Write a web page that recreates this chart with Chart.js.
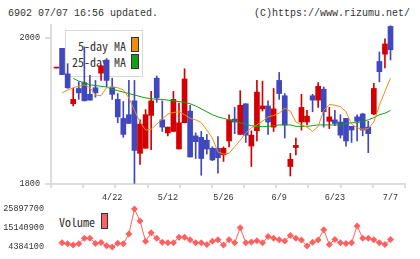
<!DOCTYPE html>
<html>
<head>
<meta charset="utf-8">
<script src="https://cdn.jsdelivr.net/npm/chart.js@4.4.1/dist/chart.umd.min.js"></script>
<style>
  body { margin: 0; background: #fff; }
  #wrap { position: relative; width: 420px; height: 259px; overflow: hidden; }
  canvas { position: absolute; left: 0; top: 0; z-index: 2; }
  .hdr { position: absolute; top: 9px; font: 10px/10px "Liberation Mono", monospace; color: #333; white-space: pre; }
  .lg { position: absolute; font: 12px/12px "Noto Sans Mono CJK JP", "Noto Sans CJK JP", monospace; color: #333; white-space: pre; z-index: 1; }
  .sw { position: absolute; border: 1px solid #333; box-sizing: border-box; z-index: 1; }
  #legbox { position: absolute; left: 65px; top: 30px; width: 78px; height: 47px; border: 1px solid #d8d8d8; box-sizing: border-box; background: #fff; z-index: 1; }
</style>
</head>
<body>
<div id="wrap">
  <div class="hdr" style="left:8px">6902 07/07 16:56 updated.</div>
  <div class="hdr" style="right:10px">(C)https://www.rizumu.net/</div>
  <div id="legbox"></div>
  <div class="lg" style="left:65px;width:61px;text-align:right;top:40px">5-day MA</div>
  <div class="lg" style="left:65px;width:61px;text-align:right;top:56px">25-day MA</div>
  <div class="sw" style="left:131px;top:37px;width:8px;height:15px;background:#f08c10"></div>
  <div class="sw" style="left:131px;top:54px;width:8px;height:15px;background:#10a010"></div>
  <div class="lg" style="left:59px;top:216px">Volume</div>
  <div class="sw" style="left:101px;top:213px;width:7px;height:16px;background:#ff6060"></div>
  <canvas id="price" width="420" height="259"></canvas>
  <canvas id="vol" width="420" height="259"></canvas>
</div>
<script>
// candles, oldest first (index = trading day)
const opens  = [1959,1986,1951,1910,1931,1939,1923,1932,1952,1970,1933,1916,1890,1895,1914,1842,1849,1894,1945,1888,
                1870,1872,1848,1884,1900,1866,1864,1860,1849,1849,1840,1859,1889,1868,1910,1852,1873,1903,1907,1878,
                1942,1921,1824,1850,1885,1885,1921,1915,1930,1886,1888,1885,1890,1879,1892,1896,1878,1896,1968,1978,2016];
const highs  = [1959,1986,1965,1931,1940,1988,1949,1942,1963,1972,1945,1924,1913,1942,1942,1888,1902,1927,1948,1914,
                1878,1927,1911,1958,1908,1870,1872,1868,1851,1865,1851,1895,1905,1928,1910,1873,1942,1941,1914,1931,
                1953,1924,1842,1863,1923,1901,1923,1939,1933,1905,1901,1895,1890,1879,1895,1897,1886,1938,1981,1999,2017];
const lows   = [1959,1950,1931,1907,1916,1914,1915,1919,1942,1933,1916,1884,1864,1883,1801,1827,1849,1847,1912,1872,
                1866,1872,1848,1884,1837,1835,1812,1841,1832,1815,1831,1851,1869,1868,1857,1824,1859,1900,1868,1872,
                1916,1863,1811,1840,1874,1881,1899,1905,1878,1876,1880,1863,1852,1857,1859,1866,1843,1895,1940,1959,1970];
const closes = [1959,1950,1932,1916,1925,1914,1915,1925,1962,1942,1923,1892,1868,1883,1846,1882,1895,1914,1918,1878,
                1878,1916,1884,1944,1837,1858,1835,1848,1833,1836,1849,1888,1885,1908,1867,1867,1926,1907,1885,1903,
                1924,1881,1834,1853,1905,1893,1915,1934,1899,1892,1883,1867,1859,1874,1886,1874,1869,1931,1954,1992,1984];

const ma5 = [null,1925,1929,1932,1934,1936,1932,1922,1921,1932,1933,1932,1929,1918,1901,1885,1874,1875,1882,1889,
             1896,1898,1899,1895,1890,1888,1884,1874,1863,1844,1841,1842,1851,1860,1870,1877,1881,1886,1892,1894,
             1897,1904,1900,1885,1881,1878,1872,1879,1901,1909,1908,1906,1899,1882,1877,1875,1876,1885,1908,1927,1945];
const ma25 = [null,null,null,1945,1941,1939,1936,1935,1934,1933,1930,1928,1926,1924,1922,1920,1918,1917,1916,1916,
              1915,1914,1913,1912,1910,1907,1903,1899,1895,1892,1890,1888,1886,1884,1882,1880,1879,1879,1879,1880,
              1881,1881,1881,1879,1879,1879,1880,1881,1881,1881,1881,1881,1883,1884,1884,1886,1888,1891,1895,1897,1901];

const volume = [null,6679600,6145800,5451800,6145800,9348800,9348800,6305900,6946500,5078100,4384100,6519400,6145800,11751000,25897700,
                19118000,7587100,12391600,9348800,7053300,6679600,6679600,9882600,9882600,8441300,6679600,6679600,5772100,7587100,8441300,
                5451800,8441300,6679600,15221000,6679600,7213400,7907400,6679600,10256300,9348800,8441300,7747300,10790100,9348800,8281100,
                4917900,7053300,8281100,14153300,5772100,8654800,6679600,6252500,6679600,16288600,9348800,9348800,8441300,6679600,5772100,8654800];

const tickLabels = ['4/22','5/12','5/26','6/9','6/23','7/7'];
const tickIndex  = [10, 20, 30, 40, 50, 60];
const priceTicks = [1800, 2000];

const RED = '#d40000', BLUE = '#4048c0';
const candleColors = opens.map((o, i) => closes[i] >= o ? RED : BLUE);
const tickFont = { family: 'Liberation Mono', size: 8.5 };
const X_MIN = -0.99, X_MAX = 62.6;

new Chart(document.getElementById('price'), {
  data: {
    datasets: [
      {
        type: 'line', label: '5-day MA', order: 0,
        data: ma5.map((v, i) => ({ x: i, y: v })),
        borderColor: '#f08c10', borderWidth: 1, pointRadius: 0, tension: 0
      },
      {
        type: 'line', label: '25-day MA', order: 0,
        data: ma25.map((v, i) => ({ x: i, y: v })),
        borderColor: '#10a010', borderWidth: 1, pointRadius: 0, tension: 0
      },
      {
        type: 'bar', label: 'wick', order: 2, grouped: false,
        data: highs.map((h, i) => ({ x: i, y: [lows[i], h] })),
        backgroundColor: candleColors, barThickness: 1
      },
      {
        type: 'bar', label: 'body', order: 1, grouped: false,
        data: opens.map((o, i) => ({ x: i, y: [Math.min(o, closes[i]), Math.max(o, closes[i])] })),
        backgroundColor: candleColors, barThickness: 5, minBarLength: 1
      }
    ]
  },
  options: {
    responsive: false,
    animation: false,
    layout: { padding: { top: 25, right: 15, bottom: 55, left: 0 } },
    plugins: { legend: { display: false }, tooltip: { enabled: false } },
    scales: {
      x: {
        type: 'linear', min: X_MIN, max: X_MAX, weight: 1, offset: false,
        grid: { display: false, drawTicks: false, offset: false },
        border: { display: false },
        afterBuildTicks: (s) => { s.ticks = tickIndex.map(v => ({ value: v })); },
        ticks: {
          autoSkip: false, maxRotation: 0, padding: 5, color: '#333', font: tickFont,
          callback: (v) => tickLabels[tickIndex.indexOf(v)]
        },
        afterFit: (s) => { s.height = 16; }
      },
      xg: {
        type: 'linear', position: 'bottom', min: 0, max: 11, weight: 0, offset: false,
        ticks: { display: false, stepSize: 1, autoSkip: false },
        grid: { drawOnChartArea: false, tickLength: 4, color: '#ddd', lineWidth: 2, offset: false },
        border: { color: '#ddd', width: 2 },
        afterFit: (s) => { s.height = 4; }
      },
      y: {
        min: 1800, max: 2018,
        afterBuildTicks: (s) => { s.ticks = priceTicks.map(v => ({ value: v })); },
        grid: { drawOnChartArea: false, tickLength: 6, color: '#ddd', lineWidth: 2 },
        border: { color: '#ddd', width: 2 },
        ticks: { padding: 5, color: '#333', font: tickFont, callback: (v) => String(v) },
        afterFit: (s) => { s.width = 51; }
      }
    }
  }
});

const vMin = Math.min(...volume.filter(v => v != null));
const vMax = Math.max(...volume.filter(v => v != null));

new Chart(document.getElementById('vol'), {
  type: 'line',
  data: {
    datasets: [{
      label: 'Volume',
      data: volume.map((v, i) => ({ x: i, y: v })),
      borderColor: '#ff6060', borderWidth: 1,
      pointStyle: 'rectRot', pointRadius: 3.5,
      pointBackgroundColor: '#ff6060', pointBorderWidth: 0,
      clip: false
    }]
  },
  options: {
    responsive: false,
    animation: false,
    layout: { padding: { top: 209, right: 15, bottom: 9.7, left: 0 } },
    plugins: { legend: { display: false }, tooltip: { enabled: false } },
    scales: {
      x: { type: 'linear', min: X_MIN, max: X_MAX, display: false },
      y: {
        min: vMin, max: vMax,
        afterBuildTicks: (s) => { s.ticks = [vMin, (vMin + vMax) / 2, vMax].map(v => ({ value: v })); },
        grid: { display: false, drawTicks: false },
        border: { display: false },
        ticks: { padding: 7, color: '#333', font: tickFont, callback: (v) => String(Math.round(v)) },
        afterFit: (s) => { s.width = 51; }
      }
    }
  }
});
</script>
</body>
</html>
